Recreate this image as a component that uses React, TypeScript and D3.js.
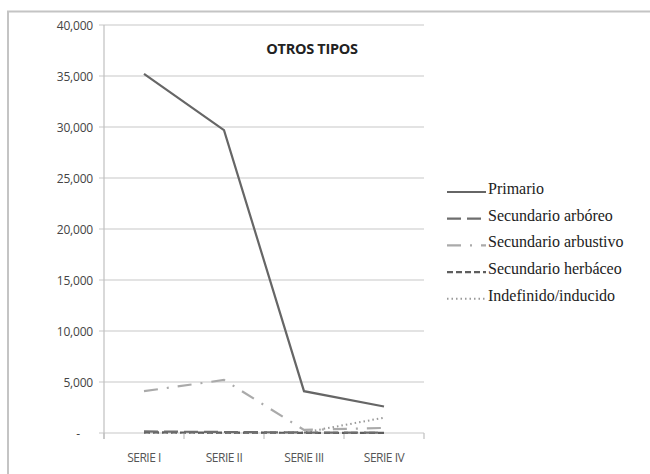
import * as d3 from "d3";
import { useEffect, useRef } from "react";

const categories = ["SERIE I", "SERIE II", "SERIE III", "SERIE IV"];
const yTicks = [0, 5000, 10000, 15000, 20000, 25000, 30000, 35000, 40000];

const primario = [35200, 29700, 4100, 2600];
const secArboreo = [150, 100, 50, 30];
const secArbustivo = [4100, 5200, 300, 500];
const secHerbaceo = [60, 40, 20, 20];
const indefinido = [0, 0, 50, 1500];

const seriesList = [
  { name: "Primario", values: primario, color: "#666", dash: "", width: 2.2 },
  { name: "Secundario arbóreo", values: secArboreo, color: "#6e6e6e", dash: "14,6", width: 2.2 },
  { name: "Secundario arbustivo", values: secArbustivo, color: "#aaa", dash: "14,9,2,9", width: 2.2 },
  { name: "Secundario herbáceo", values: secHerbaceo, color: "#5e5e5e", dash: "6,3", width: 2.2 },
  { name: "Indefinido/inducido", values: indefinido, color: "#9a9a9a", dash: "1.5,3", width: 2 },
];

function App() {
  const ref = useRef<SVGSVGElement>(null);

  useEffect(() => {
    const svg = d3.select(ref.current);
    const width = 650;
    const height = 474;
    svg.selectAll("*").remove();

    const margin = { top: 25, left: 104, right: 424, bottom: 433 };

    // frame
    svg
      .append("rect")
      .attr("x", 8)
      .attr("y", 11.5)
      .attr("width", width)
      .attr("height", height)
      .attr("fill", "white")
      .attr("stroke", "#c4c4c4")
      .attr("stroke-width", 2);

    const x = d3.scaleBand().domain(categories).range([margin.left, margin.right]);
    const y = d3.scaleLinear().domain([0, 40000]).range([margin.bottom, margin.top]);

    const labelFont = "'Open Sans', 'DejaVu Sans Condensed', sans-serif";

    // gridlines
    svg
      .append("g")
      .selectAll("line")
      .data(yTicks)
      .join("line")
      .attr("x1", margin.left - 5)
      .attr("x2", margin.right)
      .attr("y1", (d) => y(d))
      .attr("y2", (d) => y(d))
      .attr("stroke", "#c8c8c8")
      .attr("stroke-width", 1.2);

    // y axis line
    svg
      .append("line")
      .attr("x1", margin.left)
      .attr("x2", margin.left)
      .attr("y1", margin.top)
      .attr("y2", margin.bottom + 6)
      .attr("stroke", "#c0c0c0")
      .attr("stroke-width", 1.2);

    // y labels
    svg
      .append("g")
      .selectAll("text")
      .data(yTicks)
      .join("text")
      .attr("x", (d) => (d === 0 ? 78 : 93))
      .attr("y", (d) => y(d) + 4.5)
      .attr("text-anchor", (d) => (d === 0 ? "middle" : "end"))
      .attr("font-family", labelFont)
      .attr("font-size", 12)
      .attr("letter-spacing", -0.2)
      .attr("fill", "#444")
      .text((d) => (d === 0 ? "-" : d3.format(",")(d)));

    // x ticks at band boundaries
    const bounds = categories.map((c) => x(c) as number).concat([margin.right]);
    svg
      .append("g")
      .selectAll("line")
      .data(bounds)
      .join("line")
      .attr("x1", (d) => d)
      .attr("x2", (d) => d)
      .attr("y1", margin.bottom)
      .attr("y2", margin.bottom + 6)
      .attr("stroke", "#c0c0c0")
      .attr("stroke-width", 1.2);

    // x labels
    svg
      .append("g")
      .selectAll("text")
      .data(categories)
      .join("text")
      .attr("x", (d) => (x(d) as number) + x.bandwidth() / 2)
      .attr("y", 462)
      .attr("text-anchor", "middle")
      .attr("font-family", labelFont)
      .attr("font-size", 12)
      .attr("letter-spacing", -0.5)
      .attr("fill", "#555")
      .text((d) => d);

    // title
    svg
      .append("text")
      .attr("x", 312)
      .attr("y", 54)
      .attr("text-anchor", "middle")
      .attr("font-family", labelFont)
      .attr("font-size", 14.5)
      .attr("font-weight", "bold")
      .attr("letter-spacing", -0.3)
      .attr("fill", "#222")
      .text("OTROS TIPOS");

    const line = d3
      .line<number>()
      .x((_, i) => (x(categories[i]) as number) + x.bandwidth() / 2)
      .y((d) => y(d));

    // draw lines, low series first
    [...seriesList].reverse().forEach((s) => {
      svg
        .append("path")
        .datum(s.values)
        .attr("fill", "none")
        .attr("stroke", s.color)
        .attr("stroke-width", s.width)
        .attr("stroke-dasharray", s.dash || null)
        .attr("d", line);
    });

    // legend
    const legend = svg.append("g").attr("transform", "translate(447,192)");
    const rows = legend
      .selectAll("g")
      .data(seriesList)
      .join("g")
      .attr("transform", (_, i) => `translate(0,${i * 26.7})`);
    rows
      .append("line")
      .attr("x1", 0)
      .attr("x2", 39)
      .attr("y1", 0)
      .attr("y2", 0)
      .attr("stroke", (d) => d.color)
      .attr("stroke-width", (d) => d.width)
      .attr("stroke-dasharray", (d) => d.dash || null);
    rows
      .append("text")
      .attr("x", 41)
      .attr("y", 2)
      .attr("font-family", "'Liberation Serif', 'DejaVu Serif', serif")
      .attr("font-size", 16)
      .attr("fill", "#222")
      .text((d) => d.name);
  }, []);

  return (
    <svg
      ref={ref}
      width={650}
      height={474}
      style={{ position: "absolute", left: 0, top: 0 }}
    />
  );
}

export default App;
